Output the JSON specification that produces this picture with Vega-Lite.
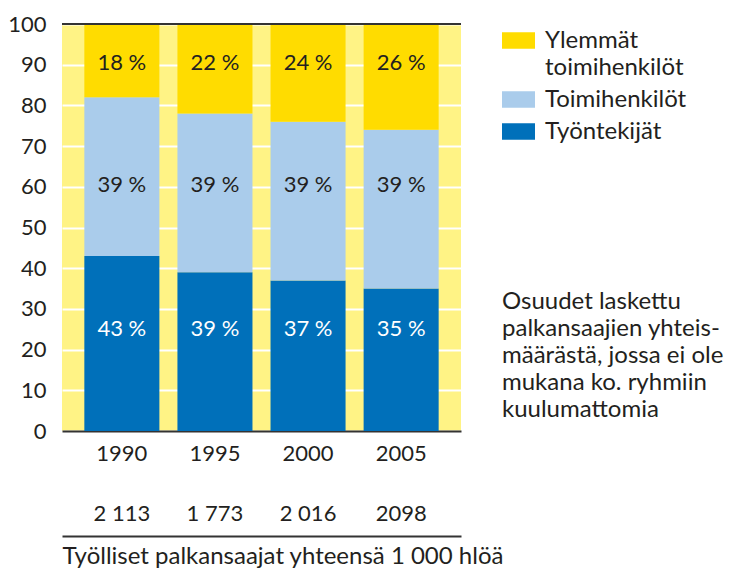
{
  "$schema": "https://vega.github.io/schema/vega-lite/v6.json",
  "width": 399,
  "height": 407,
  "autosize": {"type": "none"},
  "padding": {"left": 62, "top": 24, "right": 273, "bottom": 140},
  "background": "white",
  "config": {
    "font": "Lato",
    "view": {"fill": "#FFF385", "stroke": null}
  },
  "data": {
    "values": [
      {"key": "1990|2 113", "category": "Työntekijät", "value": 43, "order": 1},
      {"key": "1990|2 113", "category": "Toimihenkilöt", "value": 39, "order": 2},
      {"key": "1990|2 113", "category": "Ylemmät toimihenkilöt", "value": 18, "order": 3},
      {"key": "1995|1 773", "category": "Työntekijät", "value": 39, "order": 1},
      {"key": "1995|1 773", "category": "Toimihenkilöt", "value": 39, "order": 2},
      {"key": "1995|1 773", "category": "Ylemmät toimihenkilöt", "value": 22, "order": 3},
      {"key": "2000|2 016", "category": "Työntekijät", "value": 37, "order": 1},
      {"key": "2000|2 016", "category": "Toimihenkilöt", "value": 39, "order": 2},
      {"key": "2000|2 016", "category": "Ylemmät toimihenkilöt", "value": 24, "order": 3},
      {"key": "2005|2098", "category": "Työntekijät", "value": 35, "order": 1},
      {"key": "2005|2098", "category": "Toimihenkilöt", "value": 39, "order": 2},
      {"key": "2005|2098", "category": "Ylemmät toimihenkilöt", "value": 26, "order": 3}
    ]
  },
  "transform": [{"calculate": "datum.value + ' %'", "as": "label"}],
  "layer": [
    {
      "mark": {"type": "bar"},
      "encoding": {
        "x": {
          "field": "key", "type": "nominal", "sort": null,
          "scale": {"paddingInner": 0.194, "paddingOuter": 0.24},
          "axis": {
            "orient": "bottom",
            "domainColor": "#333333", "domainWidth": 2, "ticks": false, "grid": false,
            "labelAngle": 0, "labelFontSize": 22, "labelColor": "#231F20",
            "labelPadding": 12, "labelBaseline": "top", "labelLineHeight": 60,
            "labelExpr": "split(datum.value, '|')", "title": null
          }
        },
        "y": {
          "field": "value", "type": "quantitative", "stack": "zero",
          "scale": {"domain": [0, 100], "nice": false},
          "axis": {
            "values": [0, 10, 20, 30, 40, 50, 60, 70, 80, 90, 100],
            "domain": false, "ticks": false, "labelPadding": 16,
            "labelFontSize": 22, "labelColor": "#231F20",
            "gridColor": "white", "gridWidth": 2, "gridOpacity": 1, "title": null
          }
        },
        "color": {
          "field": "category", "type": "nominal",
          "scale": {
            "domain": ["Ylemmät toimihenkilöt", "Toimihenkilöt", "Työntekijät"],
            "range": ["#FFDC00", "#AACCEB", "#0070BA"]
          },
          "legend": {
            "orient": "right", "offset": 41, "padding": 0,
            "title": ["Osuudet laskettu", "palkansaajien yhteis-", "määrästä, jossa ei ole", "mukana ko. ryhmiin", "kuulumattomia"],
            "titleOrient": "bottom", "titleAnchor": "start", "titleFontSize": 24,
            "titleFontWeight": "normal", "titleLineHeight": 27, "titlePadding": 146,
            "titleColor": "#231F20", "titleLimit": 400,
            "labelFontSize": 24, "labelColor": "#231F20", "labelLimit": 400,
            "labelExpr": "datum.label == 'Ylemmät toimihenkilöt' ? ['Ylemmät', 'toimihenkilöt'] : datum.label",
            "symbolType": "M-1,-0.5H1V0.5H-1Z", "symbolSize": 1089,
            "symbolStrokeWidth": 0, "symbolOpacity": 1,
            "labelOffset": 10, "rowPadding": 3,
            "encode": {"labels": {"update": {"lineHeight": {"value": 27}}}}
          }
        },
        "order": {"field": "order"}
      }
    },
    {
      "mark": {"type": "rule", "color": "#333333", "strokeWidth": 2},
      "encoding": {"y": {"datum": 100}}
    },
    {
      "transform": [{"filter": "datum.category == 'Työntekijät'"}],
      "mark": {"type": "text", "fontSize": 22, "color": "white", "baseline": "middle"},
      "encoding": {
        "x": {
          "field": "key", "type": "nominal", "sort": null,
          "axis": {
            "orient": "bottom",
            "offset": 105, "domainColor": "#333333", "domainWidth": 2,
            "ticks": false, "labels": false, "grid": false,
            "title": "Työlliset palkansaajat yhteensä 1 000 hlöä",
            "titleAnchor": "start", "titleAlign": "left", "titleFontSize": 24,
            "titleFontWeight": "normal", "titleColor": "#231F20",
            "titlePadding": 8, "titleBaseline": "top"
          }
        },
        "y": {"datum": 25},
        "text": {"field": "label"}
      }
    },
    {
      "transform": [{"filter": "datum.category == 'Toimihenkilöt'"}],
      "mark": {"type": "text", "fontSize": 22, "color": "#231F20", "baseline": "middle"},
      "encoding": {
        "x": {"field": "key", "type": "nominal", "sort": null, "axis": null},
        "y": {"datum": 60.5},
        "text": {"field": "label"}
      }
    },
    {
      "transform": [{"filter": "datum.category == 'Ylemmät toimihenkilöt'"}],
      "mark": {"type": "text", "fontSize": 22, "color": "#231F20", "baseline": "middle"},
      "encoding": {
        "x": {"field": "key", "type": "nominal", "sort": null, "axis": null},
        "y": {"datum": 90.5},
        "text": {"field": "label"}
      }
    }
  ],
  "resolve": {"axis": {"x": "independent"}}
}
